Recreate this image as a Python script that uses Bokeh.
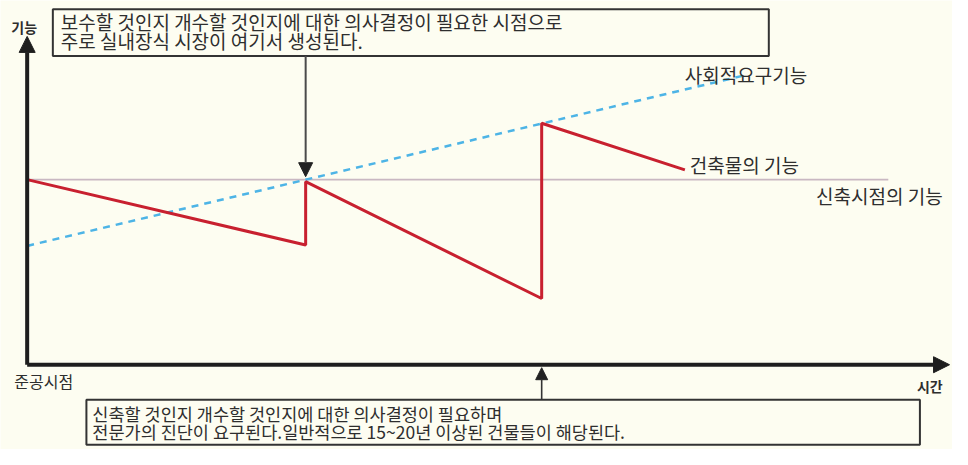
from bokeh.plotting import figure
from bokeh.models import Range1d, Arrow, NormalHead, Label, BoxAnnotation
from bokeh.embed import file_html
from bokeh.resources import INLINE

# ---- data ----
# building function over time (renovations at two points)
build_time = [0, 28.2, 28.2, 52.1, 52.1, 66.6]
build_func = [100, 64.7, 98.9, 35.8, 130.5, 105.3]
# social requirement function (rising)
social_time = [0, 72.6]
social_func = [64.2, 156.3]
# function at time of new construction
base_time = [0, 87.2]
base_func = [100, 100]

axis_y_label = "기능"
axis_x_label = "시간"
start_label = "준공시점"
social_label = "사회적요구기능"
build_label = "건축물의 기능"
base_label = "신축시점의 기능"
top_note = ["보수할 것인지 개수할 것인지에 대한 의사결정이 필요한 시점으로",
            "주로 실내장식 시장이 여기서 생성된다."]
bottom_note = ["신축할 것인지 개수할 것인지에 대한 의사결정이 필요하며",
               "전문가의 진단이 요구된다.일반적으로 15~20년 이상된 건물들이 해당된다."]

FONT = "Noto Sans CJK KR"
BG = "#fdfdf1"
TXT = "#2e2e2e"

p = figure(width=952, height=449, output_backend="svg", toolbar_location=None,
           x_range=Range1d(-2.7, 93.7), y_range=Range1d(-45.8, 196.8),
           min_border=0, background_fill_color=BG, border_fill_color=BG)
p.axis.visible = False
p.grid.visible = False
p.outline_line_color = None

# lines
p.line(base_time, base_func, line_color="#c9b8c2", line_width=1.6)
p.line(social_time, social_func, line_color="#4db4e6", line_width=2.5, line_dash="7 6")
p.line(build_time, build_func, line_color="#c8202f", line_width=3)

# axes as arrows
p.add_layout(Arrow(x_start=0, y_start=0, x_end=0, y_end=177.4, line_width=4, line_color="#1e1e1e",
                   end=NormalHead(size=16, fill_color="#1e1e1e", line_color="#1e1e1e")))
p.add_layout(Arrow(x_start=0, y_start=0, x_end=93.4, y_end=0, line_width=4, line_color="#1e1e1e",
                   end=NormalHead(size=16, fill_color="#1e1e1e", line_color="#1e1e1e")))

# note boxes
p.add_layout(BoxAnnotation(left=2.6, right=75.1, bottom=166.8, top=192.1,
                           fill_color=BG, fill_alpha=1, line_color="#333333",
                           line_alpha=1, line_width=2))
p.add_layout(BoxAnnotation(left=6.0, right=90.4, bottom=-43.2, top=-18.9,
                           fill_color=BG, fill_alpha=1, line_color="#333333",
                           line_alpha=1, line_width=2))

# pointer arrows
p.add_layout(Arrow(x_start=build_time[1], y_start=166.8, x_end=build_time[1], y_end=101.6,
                   line_width=2, line_color="#4a4a4a",
                   end=NormalHead(size=14, fill_color="#222222", line_color="#222222")))
p.add_layout(Arrow(x_start=build_time[3], y_start=-18.9, x_end=build_time[3], y_end=-1.6,
                   line_width=1.6, line_color="#333333",
                   end=NormalHead(size=12, fill_color="#222222", line_color="#222222")))

def lab(x, y, t, size, align="left", bold=False):
    p.add_layout(Label(x=x, y=y, text=t, text_font=FONT, text_font_size=f"{size}px",
                       text_color=TXT, text_align=align, text_baseline="middle",
                       text_font_style="bold" if bold else "normal"))

lab(-0.3, 182.6, axis_y_label, 14, "center", True)
lab(91.4, -11.6, axis_x_label, 14, "center", True)
lab(-1.3, -8.9, start_label, 16)
lab(66.6, 156.8, social_label, 19)
lab(67.1, 108.4, build_label, 19)
lab(92.7, 91.6, base_label, 19, "right")
lab(3.4, 185.3, top_note[0], 19)
lab(3.4, 175.3, top_note[1], 19)
lab(6.6, -26.3, bottom_note[0], 17.5)
lab(6.6, -36.3, bottom_note[1], 17.5)

open("out.html", "w").write(file_html(p, INLINE))
